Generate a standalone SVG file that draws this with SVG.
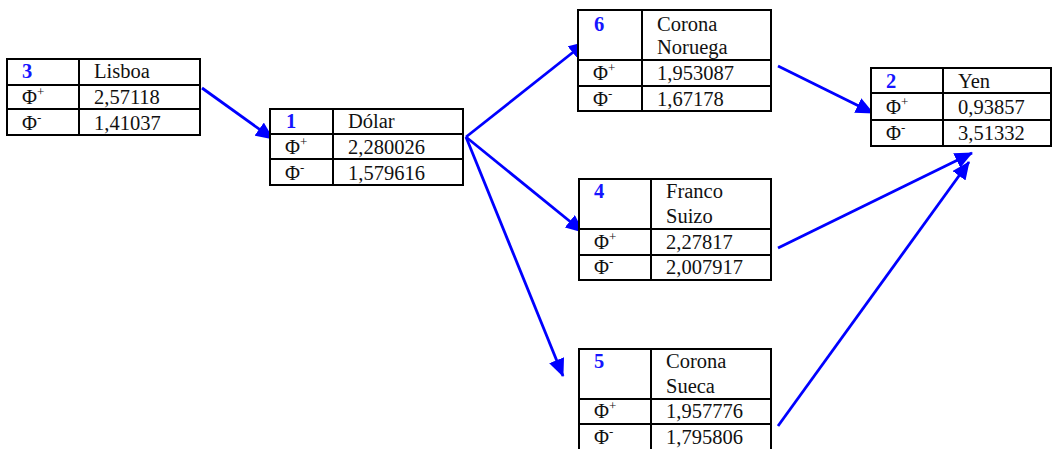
<svg xmlns="http://www.w3.org/2000/svg" width="1053" height="449" viewBox="0 0 1053 449">
<defs>
<style>
.cell{fill:#fff;stroke:#000;stroke-width:2}
.ln{stroke:#000;stroke-width:2}
.t{font-family:"Liberation Serif","Times New Roman",serif;font-size:20.5px;fill:#111}
.n{font-family:"Liberation Serif","Times New Roman",serif;font-size:20.5px;font-weight:bold;fill:#1515ff}
.sup{font-size:13px}
.arr{stroke:#0000ff;stroke-width:2.8;fill:none;marker-end:url(#ah)}
</style>
<marker id="ah" viewBox="0 0 18 16" refX="17" refY="8" markerWidth="18" markerHeight="16" markerUnits="userSpaceOnUse" orient="auto">
<path d="M0,0 L18,8 L0,16 z" fill="#0000ff"/>
</marker>
</defs>
<rect width="1053" height="449" fill="#fff"/>

<g id="connectors">
<line class="arr" x1="202" y1="88" x2="273" y2="139"/>
<line class="arr" x1="466" y1="137" x2="586" y2="42"/>
<line class="arr" x1="466" y1="137" x2="583" y2="232"/>
<line class="arr" x1="466" y1="137" x2="563" y2="376"/>
<line class="arr" x1="778" y1="66" x2="873" y2="113"/>
<line class="arr" x1="778" y1="248" x2="972" y2="153"/>
<line class="arr" x1="778" y1="426" x2="969" y2="162"/>
</g>

<g id="node3">
<rect class="cell" x="7" y="59" width="193" height="76"/>
<line class="ln" x1="79" y1="59" x2="79" y2="135"/>
<line class="ln" x1="7" y1="85" x2="200" y2="85"/>
<line class="ln" x1="7" y1="109" x2="200" y2="109"/>
<text class="n" x="22" y="78">3</text>
<text class="t" x="94" y="78">Lisboa</text>
<text class="t" x="22" y="104">Φ<tspan class="sup" dy="-8">+</tspan></text>
<text class="t" x="94" y="104">2,57118</text>
<text class="t" x="22" y="130">Φ<tspan class="sup" dy="-8">-</tspan></text>
<text class="t" x="94" y="130">1,41037</text>
</g>

<g id="node1">
<rect class="cell" x="270" y="109" width="193" height="76"/>
<line class="ln" x1="333" y1="109" x2="333" y2="185"/>
<line class="ln" x1="270" y1="134" x2="463" y2="134"/>
<line class="ln" x1="270" y1="159" x2="463" y2="159"/>
<text class="n" x="286" y="128">1</text>
<text class="t" x="348" y="128">Dólar</text>
<text class="t" x="285" y="154">Φ<tspan class="sup" dy="-8">+</tspan></text>
<text class="t" x="348" y="154">2,280026</text>
<text class="t" x="285" y="180">Φ<tspan class="sup" dy="-8">-</tspan></text>
<text class="t" x="348" y="180">1,579616</text>
</g>

<g id="node6">
<rect class="cell" x="578" y="10" width="193" height="101"/>
<line class="ln" x1="642" y1="10" x2="642" y2="111"/>
<line class="ln" x1="578" y1="60" x2="771" y2="60"/>
<line class="ln" x1="578" y1="86" x2="771" y2="86"/>
<text class="n" x="594" y="31">6</text>
<text class="t" x="657" y="31">Corona</text>
<text class="t" x="657" y="54">Noruega</text>
<text class="t" x="593" y="80">Φ<tspan class="sup" dy="-8">+</tspan></text>
<text class="t" x="657" y="80">1,953087</text>
<text class="t" x="593" y="106">Φ<tspan class="sup" dy="-8">-</tspan></text>
<text class="t" x="657" y="106">1,67178</text>
</g>

<g id="node4">
<rect class="cell" x="579" y="179" width="192" height="101"/>
<line class="ln" x1="651" y1="179" x2="651" y2="280"/>
<line class="ln" x1="579" y1="229" x2="771" y2="229"/>
<line class="ln" x1="579" y1="255" x2="771" y2="255"/>
<text class="n" x="594" y="198">4</text>
<text class="t" x="666" y="198">Franco</text>
<text class="t" x="666" y="223">Suizo</text>
<text class="t" x="594" y="249">Φ<tspan class="sup" dy="-8">+</tspan></text>
<text class="t" x="666" y="249">2,27817</text>
<text class="t" x="594" y="274">Φ<tspan class="sup" dy="-8">-</tspan></text>
<text class="t" x="666" y="274">2,007917</text>
</g>

<g id="node5">
<rect class="cell" x="579" y="349" width="192" height="102"/>
<line class="ln" x1="651" y1="349" x2="651" y2="451"/>
<line class="ln" x1="579" y1="399" x2="771" y2="399"/>
<line class="ln" x1="579" y1="424" x2="771" y2="424"/>
<text class="n" x="594" y="368">5</text>
<text class="t" x="666" y="368">Corona</text>
<text class="t" x="666" y="393">Sueca</text>
<text class="t" x="594" y="418">Φ<tspan class="sup" dy="-8">+</tspan></text>
<text class="t" x="666" y="418">1,957776</text>
<text class="t" x="594" y="444">Φ<tspan class="sup" dy="-8">-</tspan></text>
<text class="t" x="666" y="444">1,795806</text>
</g>

<g id="node2">
<rect class="cell" x="871" y="68" width="180" height="78"/>
<line class="ln" x1="943" y1="68" x2="943" y2="146"/>
<line class="ln" x1="871" y1="93" x2="1051" y2="93"/>
<line class="ln" x1="871" y1="120" x2="1051" y2="120"/>
<text class="n" x="886" y="88">2</text>
<text class="t" x="958" y="88">Yen</text>
<text class="t" x="886" y="114">Φ<tspan class="sup" dy="-8">+</tspan></text>
<text class="t" x="958" y="114">0,93857</text>
<text class="t" x="886" y="140">Φ<tspan class="sup" dy="-8">-</tspan></text>
<text class="t" x="958" y="140">3,51332</text>
</g>
</svg>
